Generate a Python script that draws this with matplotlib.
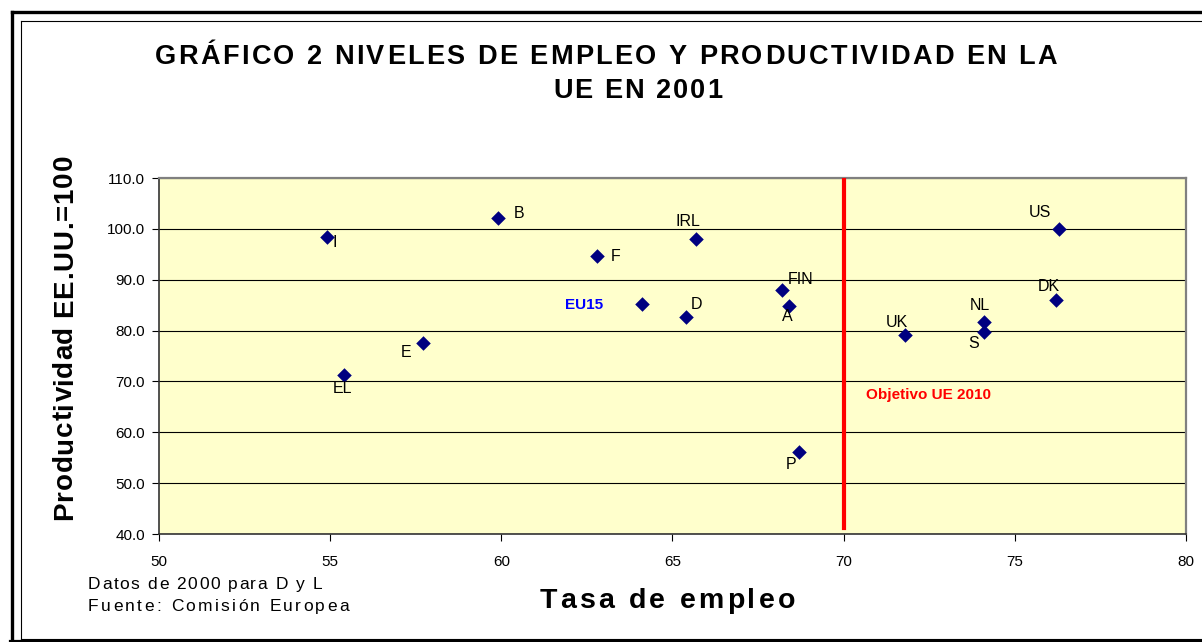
import matplotlib
matplotlib.use('Agg')
import matplotlib.pyplot as plt
from matplotlib.lines import Line2D
from matplotlib.font_manager import FontProperties
from matplotlib.textpath import TextToPath

plt.rcParams['font.family'] = ['Liberation Sans', 'DejaVu Sans']

# datos
paises = ['I', 'B', 'F', 'IRL', 'EU15', 'D', 'FIN', 'A', 'P', 'E', 'EL', 'UK', 'NL', 'S', 'DK', 'US']
tasa_empleo = [54.9, 59.9, 62.8, 65.7, 64.1, 65.4, 68.2, 68.4, 68.7, 57.7, 55.4, 71.8, 74.1, 74.1, 76.2, 76.3]
productividad = [98.4, 102.1, 94.7, 98.0, 85.2, 82.7, 88.0, 84.8, 56.1, 77.6, 71.3, 79.1, 81.7, 79.7, 86.0, 100.0]
objetivo_x = [70, 70]
objetivo_y = [41.2, 110]
xticks = [50, 55, 60, 65, 70, 75, 80]
yticks = [40, 50, 60, 70, 80, 90, 100, 110]

# desplazamiento de etiquetas (pixeles, dx derecha, dy abajo)
desp = {'I': (8, 6), 'B': (21, -5), 'F': (18, 1), 'IRL': (-9, -18), 'EU15': (-58, 1),
        'D': (10, -12), 'FIN': (19, -10), 'A': (-2, 10), 'P': (-8, 12), 'E': (-17, 10),
        'EL': (-1, 14), 'UK': (-8, -13), 'NL': (-4, -16), 'S': (-10, 11), 'DK': (-7, -14),
        'US': (-19, -16)}

W, H = 1202, 642
fig = plt.figure(figsize=(W / 100, H / 100), dpi=100)
fig.patch.set_facecolor('white')

def fx(px):
    return px / W

def fy(py):
    return 1 - py / H

ttp = TextToPath()

def texto_espaciado(s, cx, cy, ancho, size, rot=0, **kw):
    # dibuja letra por letra para imitar el espaciado de Excel
    prop = FontProperties(family='Liberation Sans', size=size, weight=kw.get('weight', 'normal'))
    ws = [ttp.get_text_width_height_descent(c, prop, ismath=False)[0] * 100 / 72 for c in s]
    esp = (ancho - sum(ws)) / (len(s) - 1)
    pos = -ancho / 2
    for c, w in zip(s, ws):
        if rot == 0:
            x, y = cx + pos, cy
        else:
            x, y = cx, cy - pos
        fig.text(fx(x), fy(y), c, fontsize=size, rotation=rot, rotation_mode='anchor',
                 ha='left', va='baseline', **kw)
        pos += w + esp

# marcos
fig.add_artist(Line2D([fx(11.5), fx(11.5)], [fy(11.5), fy(645)], color='black', lw=2.4))
fig.add_artist(Line2D([fx(11.5), fx(1205)], [fy(11.5), fy(11.5)], color='black', lw=2.4))
fig.add_artist(Line2D([fx(10), fx(1205)], [fy(641), fy(641)], color='black', lw=1.6))
fig.add_artist(Line2D([fx(21), fx(21)], [fy(21), fy(639)], color='black', lw=0.8))
fig.add_artist(Line2D([fx(21), fx(1205)], [fy(21), fy(21)], color='black', lw=0.8))
fig.add_artist(Line2D([fx(21), fx(1205)], [fy(638.5), fy(638.5)], color='black', lw=0.8))

ax = fig.add_axes([fx(159), fy(534), fx(1186) - fx(159), fy(178) - fy(534)])
ax.set_facecolor('#FFFFCC')
ax.set_xlim(50, 80)
ax.set_ylim(40, 110)
ax.set_xticks(xticks)
ax.set_yticks(yticks)
ax.set_yticklabels(['%.1f' % v for v in yticks])
ax.tick_params(axis='x', direction='out', length=5, width=0.8, pad=10, labelsize=11, colors='black')
ax.tick_params(axis='y', direction='out', length=5, width=0.8, pad=5, labelsize=11, colors='black')
ax.grid(axis='y', color='black', lw=0.8)
ax.set_axisbelow(True)
for sp in ['left', 'bottom']:
    ax.spines[sp].set_color('#333333')
    ax.spines[sp].set_linewidth(1.2)
for sp in ['top', 'right']:
    ax.spines[sp].set_color('#808080')
    ax.spines[sp].set_linewidth(1.6)

ax.plot(objetivo_x, objetivo_y, color='#FF0000', lw=3, zorder=3)
ax.scatter(tasa_empleo, productividad, marker='D', s=55, color='#000080', zorder=4, linewidths=0)

for p, x, y in zip(paises, tasa_empleo, productividad):
    dx, dy = desp[p]
    if p == 'EU15':
        ax.annotate(p, (x, y), xytext=(dx, -dy), textcoords='offset pixels', ha='center',
                    va='center', fontsize=11, color='#0000FF', fontweight='bold', zorder=5)
    else:
        ax.annotate(p, (x, y), xytext=(dx, -dy), textcoords='offset pixels', ha='center',
                    va='center', fontsize=11.5, color='black', zorder=5)

ax.text(70.65, 67.3, 'Objetivo UE 2010', color='#FF0000', fontsize=11, fontweight='bold',
        ha='left', va='center')

# titulos
texto_espaciado('GRÁFICO 2 NIVELES DE EMPLEO Y PRODUCTIVIDAD EN LA', 606, 64, 902, 19.5, weight='bold')
texto_espaciado('UE EN 2001', 637.5, 98, 169, 19.5, weight='bold')
texto_espaciado('Tasa de empleo', 667.5, 608, 255, 20.5, weight='bold')
texto_espaciado('Productividad EE.UU.=100', 72, 337.5, 365, 20, rot=90, weight='bold')
texto_espaciado('Datos de 2000 para D y L', 205, 589, 234, 12.5)
texto_espaciado('Fuente: Comisión Europea', 218.5, 611, 261, 12.5)

fig.savefig('out.png', dpi=100)
